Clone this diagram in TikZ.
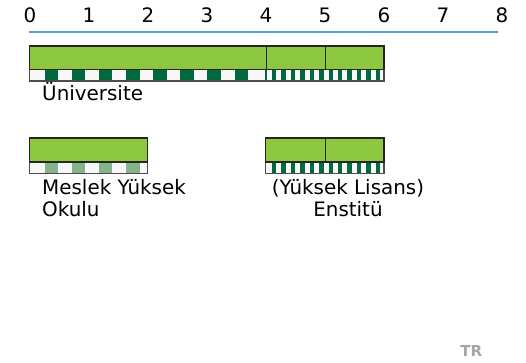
\documentclass[tikz,border=0pt]{standalone}
\usepackage{fontspec}
\setmainfont{DejaVu Sans}
\usetikzlibrary{positioning}
\definecolor{barGreen}{HTML}{8DC63F}
\definecolor{darkStripe}{HTML}{00693E}
\definecolor{paleStripe}{HTML}{86B38C}
\definecolor{axisBlue}{HTML}{5B9BD5}
\tikzset{
	greenbar/.style={fill=barGreen,draw=black!85,line width=0.5pt},
	striprow/.style={fill=black!3,draw=black!70,line width=0.5pt},
	txt/.style={inner sep=0pt,font=\fontsize{9.6}{10.6}\selectfont}
}

\begin{document}
\begin{tikzpicture}
			\useasboundingbox (-0.508,0) rectangle (8.407,6.136);
			% scale
			\foreach \i in {0,...,8} \node[txt] (tick\i) at (\i,5.88) {\i};
			\draw[axisBlue,line width=0.8pt] (-0.02,5.593)--(7.93,5.593);
			% universite
			\draw[striprow] (0,4.763) rectangle (6,4.966);
			\foreach \k in {0,...,7} \fill[darkStripe] ({0.254+0.459*\k},4.763) rectangle +(0.226,0.203);
			\foreach \k in {0,...,11} \fill[darkStripe] ({4.10+0.16*\k},4.763) rectangle +(0.075,0.203);
			\draw[darkStripe,line width=1pt] (4,4.763)--(4,4.966);
			\draw[black!70,line width=0.5pt] (0,4.763) rectangle (6,4.966);
			\draw[greenbar] (0,4.966) rectangle (6,5.356);
			\draw[black!85] (4,4.966)--(4,5.356) (5,4.966)--(5,5.356);
			% meslek yuksek okulu
			\draw[striprow] (0,3.203) rectangle (2,3.39);
			\foreach \k in {0,...,3} \fill[paleStripe] ({0.254+0.459*\k},3.203) rectangle +(0.226,0.187);
			\draw[black!70,line width=0.5pt] (0,3.203) rectangle (2,3.39);
			\draw[greenbar] (0,3.39) rectangle (2,3.797);
			% enstitu
			\draw[striprow] (4,3.203) rectangle (6,3.39);
			\foreach \k in {0,...,11} \fill[darkStripe] ({4.10+0.16*\k},3.203) rectangle +(0.075,0.187);
			\draw[black!70,line width=0.5pt] (4,3.203) rectangle (6,3.39);
			\draw[greenbar] (4,3.39) rectangle (6,3.797);
			\draw[black!85] (5,3.39)--(5,3.797);
			\path
			(0.2,4.424) node[txt,anchor=base west] (uni) {Üniversite}
			(0.2,3.10) node[txt,anchor=north west,align=left] (myo) {Meslek Yüksek\\Okulu}
			(5.39,3.10) node[txt,anchor=north,align=center] (enst) {(Yüksek Lisans)\\Enstitü}
			(7.48,0.195) node[inner sep=0pt,font=\fontsize{7.3}{8}\selectfont\bfseries,text=black!35] (tr) {TR}
			;
		\end{tikzpicture}
\end{document}
